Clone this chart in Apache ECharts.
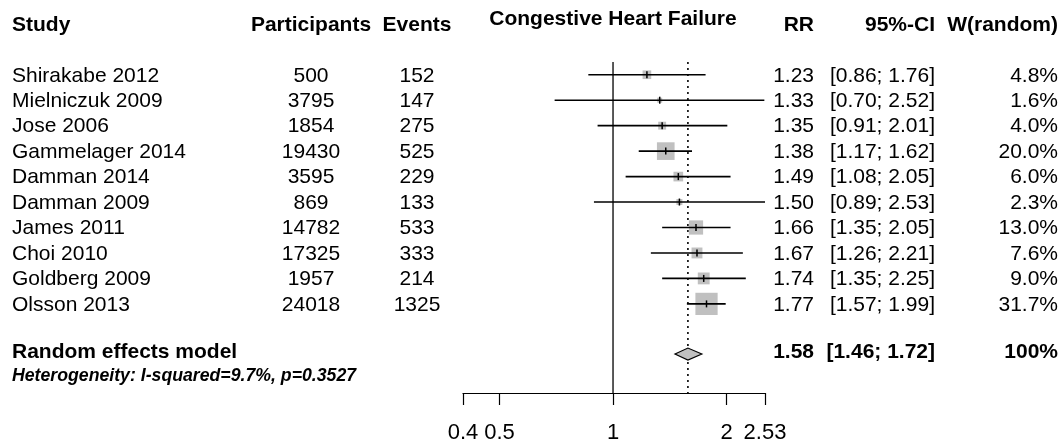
<!DOCTYPE html>
<html><head><meta charset="utf-8">
<script src="https://cdn.jsdelivr.net/npm/echarts@6/dist/echarts.min.js"></script>
<style>html,body{margin:0;padding:0;background:#fff}#c{width:1063px;height:444px}</style>
</head><body><div id="c"></div>
<script>
const studies = ['Shirakabe 2012','Mielniczuk 2009','Jose 2006','Gammelager 2014','Damman 2014','Damman 2009','James 2011','Choi 2010','Goldberg 2009','Olsson 2013'];
const participants = [500,3795,1854,19430,3595,869,14782,17325,1957,24018];
const events = [152,147,275,525,229,133,533,333,214,1325];
const rr = [1.23,1.33,1.35,1.38,1.49,1.50,1.66,1.67,1.74,1.77];
const ciLow = [0.86,0.70,0.91,1.17,1.08,0.89,1.35,1.26,1.35,1.57];
const ciHigh = [1.76,2.52,2.01,1.62,2.05,2.53,2.05,2.21,2.25,1.99];
const weights = [4.8,1.6,4.0,20.0,6.0,2.3,13.0,7.6,9.0,31.7];
const summaryRR = 1.58, summaryLow = 1.46, summaryHigh = 1.72, summaryWeight = '100%';
const xTicks = [0.4,0.5,1,2,2.53];
const headers = {study:'Study', participants:'Participants', events:'Events', title:'Congestive Heart Failure', rr:'RR', ci:'95%-CI', w:'W(random)'};
const summaryLabel = 'Random effects model';
const heterogeneity = 'Heterogeneity: I-squared=9.7%, p=0.3527';

const FF = '"Liberation Sans", Arial, Helvetica, sans-serif';
const FS = 21;
const X = {study:12, part:311, ev:417, rr:814, ci:935, w:1058, title:613};
const ROW_SUM = 10.97, ROW_HET = 11.82;

function txt(text, x, y, align, opts) {
  opts = opts || {};
  return {type:'text', style:{text:text, x:x, y:y, align:align, verticalAlign:'middle', fill:'#000',
    fontFamily:FF, fontSize:opts.size||FS, fontWeight:opts.weight||'normal', fontStyle:opts.style||'normal'}};
}
const fmtCI = (l,h) => '[' + l.toFixed(2) + '; ' + h.toFixed(2) + ']';

const chart = echarts.init(document.getElementById('c'));
chart.setOption({
  animation:false,
  backgroundColor:'#fff',
  grid:{left:463, right:298, top:62, bottom:48},
  xAxis:{type:'log', logBase:10, min:0.4, max:2.53,
    axisLine:{onZero:false, lineStyle:{color:'#000', width:1.2}},
    axisTick:{customValues:xTicks, length:12, lineStyle:{color:'#000', width:1.2}},
    axisLabel:{customValues:xTicks, margin:29, color:'#000', fontSize:22, fontFamily:FF,
      formatter:v => String(parseFloat((+v).toPrecision(3)))},
    splitLine:{show:false}, minorTick:{show:false}},
  yAxis:{type:'value', inverse:true, min:-0.5, max:12.5, show:false},
  graphic:[
    txt(headers.study, X.study, 25, 'left', {weight:'bold'}),
    txt(headers.participants, X.part, 25, 'center', {weight:'bold'}),
    txt(headers.events, X.ev, 25, 'center', {weight:'bold'}),
    txt(headers.title, X.title, 19, 'center', {weight:'bold'}),
    txt(headers.rr, X.rr, 25, 'right', {weight:'bold'}),
    txt(headers.ci, X.ci, 25, 'right', {weight:'bold'}),
    txt(headers.w, X.w, 25, 'right', {weight:'bold'})
  ],
  series:[
    {type:'custom', data:[[1],[summaryRR]], encode:{x:0}, silent:true, z:1,
      renderItem(params, api){
        const v = api.value(0);
        const p0 = api.coord([v, -0.5]), p1 = api.coord([v, 12.5]);
        const dotted = params.dataIndex === 1;
        return {type:'line', shape:{x1:p0[0], y1:p0[1], x2:p1[0], y2:p1[1]},
          style:{stroke:'#000', lineWidth:dotted?1.6:1.3, lineDash:dotted?[2,4]:null}};
      }},
    {type:'custom', z:2, silent:true,
      data: studies.map((s,i)=>[rr[i], i]), encode:{x:0, y:1},
      renderItem(params, api){
        const i = params.dataIndex;
        const c = api.coord([rr[i], i]);
        const y = c[1];
        const xl = api.coord([ciLow[i], i])[0], xh = api.coord([ciHigh[i], i])[0];
        const s = 3.95*Math.sqrt(weights[i]);
        return {type:'group', children:[
          {type:'rect', shape:{x:c[0]-s/2, y:y-s/2, width:s, height:s}, style:{fill:'#c0c0c0'}},
          {type:'line', shape:{x1:xl, y1:y, x2:xh, y2:y}, style:{stroke:'#000', lineWidth:1.6}},
          {type:'line', shape:{x1:c[0], y1:y-3.5, x2:c[0], y2:y+3.5}, style:{stroke:'#000', lineWidth:1.5}},
          txt(studies[i], X.study, y+1, 'left'),
          txt(String(participants[i]), X.part, y+1, 'center'),
          txt(String(events[i]), X.ev, y+1, 'center'),
          txt(rr[i].toFixed(2), X.rr, y+1, 'right'),
          txt(fmtCI(ciLow[i], ciHigh[i]), X.ci, y+1, 'right'),
          txt(weights[i].toFixed(1)+'%', X.w, y+1, 'right')
        ]};
      }},
    {type:'custom', z:3, silent:true,
      data:[[summaryRR, ROW_SUM]], encode:{x:0, y:1},
      renderItem(params, api){
        const c = api.coord([summaryRR, ROW_SUM]);
        const y = c[1];
        const xl = api.coord([summaryLow, ROW_SUM])[0], xh = api.coord([summaryHigh, ROW_SUM])[0];
        const yh = api.coord([1, ROW_HET])[1];
        return {type:'group', children:[
          {type:'polygon', shape:{points:[[xl,y],[c[0],y-6],[xh,y],[c[0],y+6]]},
            style:{fill:'#c0c0c0', stroke:'#000', lineWidth:1.2}},
          txt(summaryLabel, X.study, y-2, 'left', {weight:'bold'}),
          txt(summaryRR.toFixed(2), X.rr, y-2, 'right', {weight:'bold'}),
          txt(fmtCI(summaryLow, summaryHigh), X.ci, y-2, 'right', {weight:'bold'}),
          txt(summaryWeight, X.w, y-2, 'right', {weight:'bold'}),
          txt(heterogeneity, X.study, yh, 'left', {weight:'bold', style:'italic', size:17.7})
        ]};
      }}
  ]
});
</script></body></html>
